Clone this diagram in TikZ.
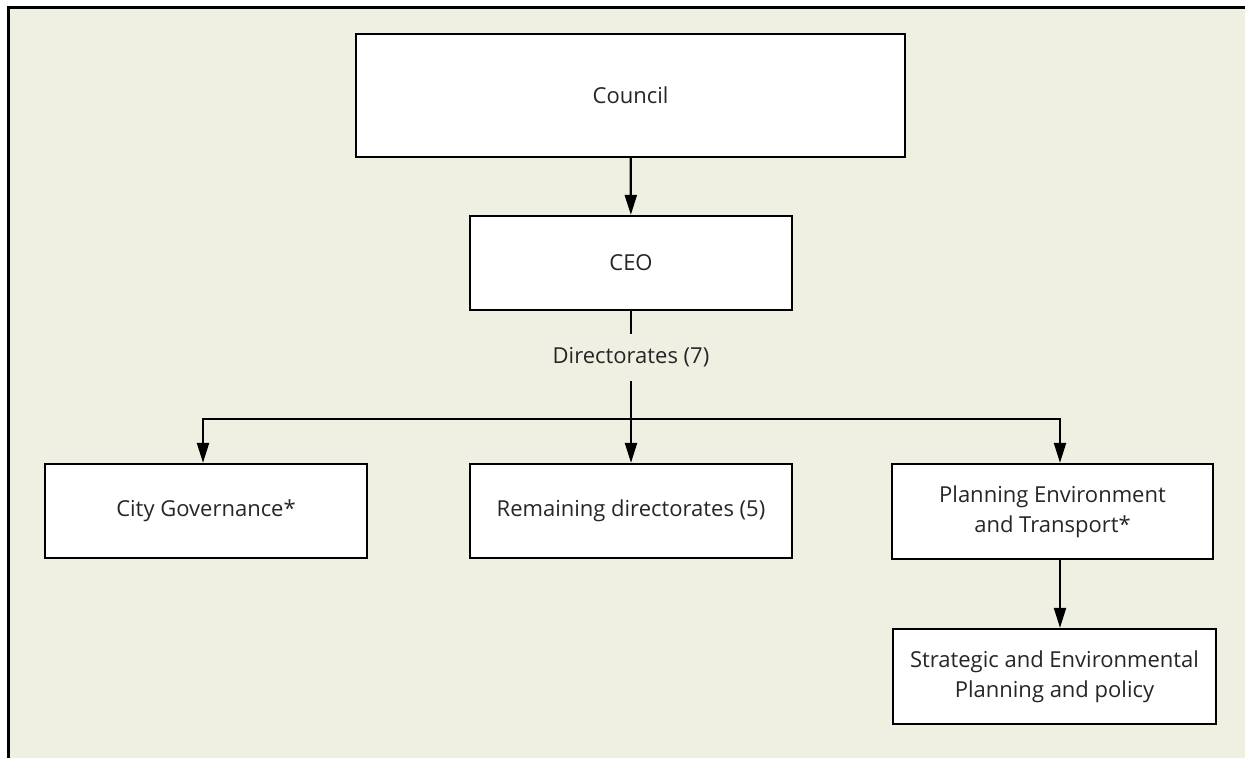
\documentclass[tikz,border=0pt]{standalone}
\usepackage{fontspec}
\setmainfont{Open Sans}
\usetikzlibrary{arrows.meta}
\definecolor{bg}{HTML}{F0F0E2}
\tikzset{
  box/.style={draw=black, fill=white, line width=2.3pt, inner sep=0pt, align=center,
    font=\fontsize{22}{30}\selectfont, text=black!85},
  conn/.style={line width=2.2pt, draw=black},
  arr/.style={conn, -{Triangle[length=20pt, width=12pt]}},
  lbl/.style={inner sep=0pt, font=\fontsize{22}{30}\selectfont, text=black!85}
}
\begin{document}
\begin{tikzpicture}[x=1pt, y=-1pt]
\useasboundingbox (0,0) rectangle (1245,758);
\fill[bg] (10,9) rectangle (1245,758);
\draw[line width=3pt] (8.5,758) -- (8.5,7.5) -- (1245,7.5);

\node[box, minimum width=549pt, minimum height=123pt] (council) at (630.5,95.5) {Council};
\node[box, minimum width=322pt, minimum height=94pt] (ceo) at (631,263) {CEO};
\node[lbl, minimum height=47pt] (dir) at (631,357.5) {Directorates (7)};
\coordinate (j) at (631,419);
\node[box, minimum width=322pt, minimum height=94pt] (city) at (206,511) {City Governance*};
\node[box, minimum width=322pt, minimum height=94pt] (rem) at (631,511) {Remaining directorates (5)};
\node[box, minimum width=321pt, minimum height=95pt] (plan) at (1052.5,511.5) {Planning Environment\\and Transport*};
\node[box, minimum width=323pt, minimum height=95pt] (strat) at (1054.5,676.5) {Strategic and Environmental\\Planning and policy};

\draw[arr] (council) -- (ceo);
\draw[conn] (ceo) -- (dir);
\draw[conn] (dir.south) -- (j);
\draw[arr] (j) -| ([xshift=-3pt]city.north);
\draw[arr] (j) -- (rem);
\draw[arr] (j) -| ([xshift=7.5pt]plan.north);
\draw[arr] ([xshift=7.5pt]plan.south) -- ([xshift=5.5pt]strat.north);
\end{tikzpicture}
\end{document}
